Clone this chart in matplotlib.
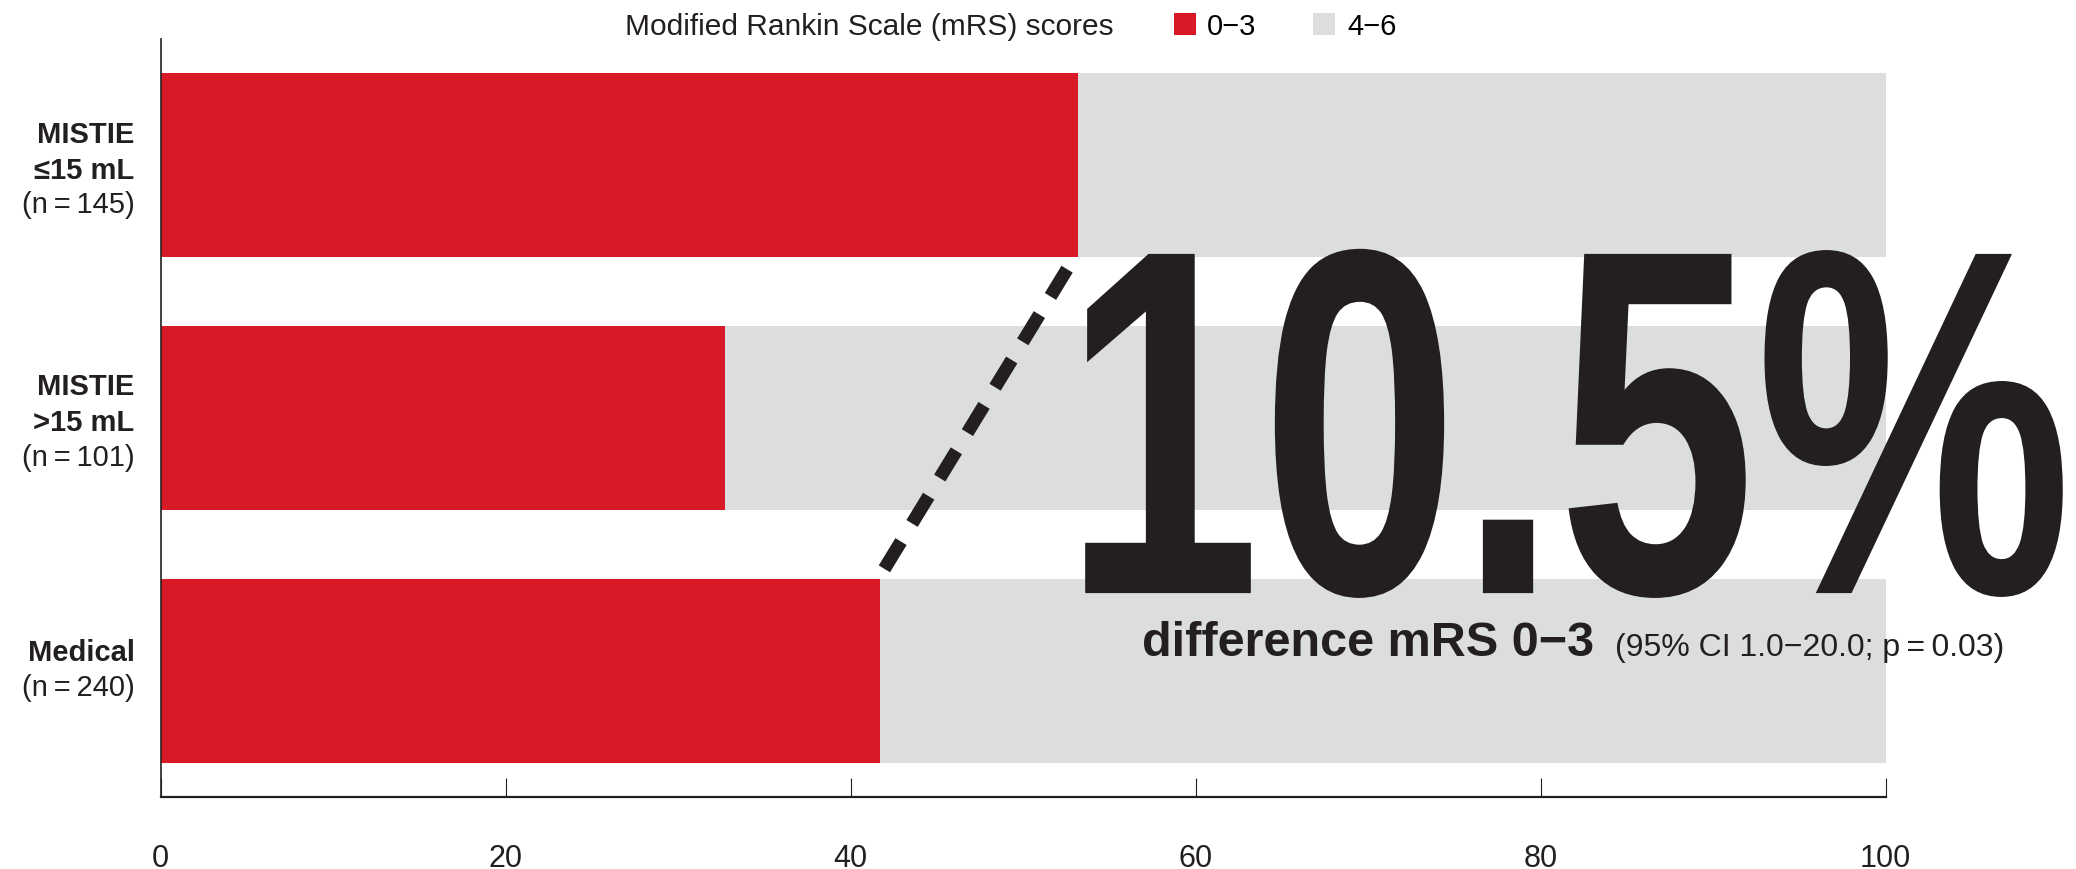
import matplotlib
matplotlib.use("Agg")
import matplotlib.pyplot as plt
from matplotlib.patches import Patch
from matplotlib.patheffects import AbstractPathEffect
from matplotlib.transforms import Affine2D

# ----------------------------
# data
# ----------------------------
groups = ["MISTIE ≤15 mL", "MISTIE >15 mL", "Medical"]
group_n = [145, 101, 240]
mrs_0_3 = [53.2, 32.7, 41.7]
mrs_4_6 = [100 - v for v in mrs_0_3]
legend_labels = ["0\u22123", "4\u22126"]
xticks = [0, 20, 40, 60, 80, 100]
big_number = "10.5%"

RED = "#D71A25"
GRAY = "#DCDDDF"
INK = "#231F20"

plt.rcParams["font.family"] = ["Liberation Sans", "DejaVu Sans"]


class Condensed(AbstractPathEffect):
    """squeeze a text horizontally around its left edge (condensed face look)"""

    def __init__(self, sx):
        super().__init__()
        self.sx = sx

    def draw_path(self, renderer, gc, tpath, affine, rgbFace=None):
        x0 = affine.transform((0, 0))[0]
        squeeze = Affine2D().translate(-x0, 0).scale(self.sx, 1).translate(x0, 0)
        renderer.draw_path(gc, tpath, affine + squeeze, rgbFace)


fig = plt.figure(figsize=(20.76, 8.7), dpi=100)
ax = fig.add_axes([160.6 / 2076, 1 - 798 / 870, 1725 / 2076, 758 / 870])

y = list(range(len(groups)))
ax.barh(y, mrs_0_3, height=0.728, color=RED, linewidth=0)
ax.barh(y, mrs_4_6, left=mrs_0_3, height=0.728, color=GRAY, linewidth=0)

ax.set_xlim(0, 100)
ax.set_ylim(2.5, -0.5)
ax.set_yticks([])
ax.set_xticks(xticks)
ax.set_xticklabels([str(t) for t in xticks], fontsize=22, color=INK)
ax.tick_params(axis="x", direction="in", length=14, width=0.8, pad=33, colors=INK)
for s in ["top", "right"]:
    ax.spines[s].set_visible(False)
ax.spines["bottom"].set_linewidth(1.6)
ax.spines["left"].set_linewidth(1.2)
ax.spines["bottom"].set_color(INK)
ax.spines["left"].set_color(INK)

# group labels on the left
lab_x = -0.015
tr = ax.get_yaxis_transform()
label_lines = [
    [("MISTIE", "bold"), ("\u226415 mL", "bold"), ("(n\u2009=\u2009%d)" % group_n[0], "normal")],
    [("MISTIE", "bold"), (">15 mL", "bold"), ("(n\u2009=\u2009%d)" % group_n[1], "normal")],
    [("Medical", "bold"), ("(n\u2009=\u2009%d)" % group_n[2], "normal")],
]
for i, lines in enumerate(label_lines):
    offs = [-0.125, 0.017, 0.155] if len(lines) == 3 else [-0.074, 0.064]
    for (txt, w), o in zip(lines, offs):
        ax.text(lab_x, i + o, txt, transform=tr, ha="right", va="center",
                fontsize=21, fontweight=w, color=INK)

# dashed connector between bar 1 and bar 3
ax.plot([52.55, 41.94], [0.411, 1.599], color=INK, lw=9.5,
        dashes=(2.42, 1.61), dash_capstyle="butt")

# big annotation
ax.text(52.3, 1.693, big_number, fontsize=355, fontweight="bold",
        color=INK, va="baseline", ha="left", path_effects=[Condensed(0.722)])
ax.text(56.9, 1.938, "difference mRS 0\u22123", fontsize=35, fontweight="bold",
        color=INK, va="baseline", ha="left")
ax.text(84.3, 1.938, "(95% CI 1.0\u221220.0; p\u2009=\u20090.03)", fontsize=23,
        color=INK, va="baseline", ha="left")

# legend
fig.text(625 / 2076, 1 - 27 / 870, "Modified Rankin Scale (mRS) scores",
         fontsize=21.5, color=INK, va="center", ha="left")
handles = [Patch(facecolor=RED), Patch(facecolor=GRAY)]
fig.legend(handles, legend_labels, loc="center left",
           bbox_to_anchor=(1162 / 2076, 1 - 27 / 870), ncol=2, frameon=False,
           handlelength=0.75, handleheight=0.75, handletextpad=0.4,
           columnspacing=1.95, borderaxespad=0, prop={"size": 21})

fig.savefig("out.png", dpi=100)
